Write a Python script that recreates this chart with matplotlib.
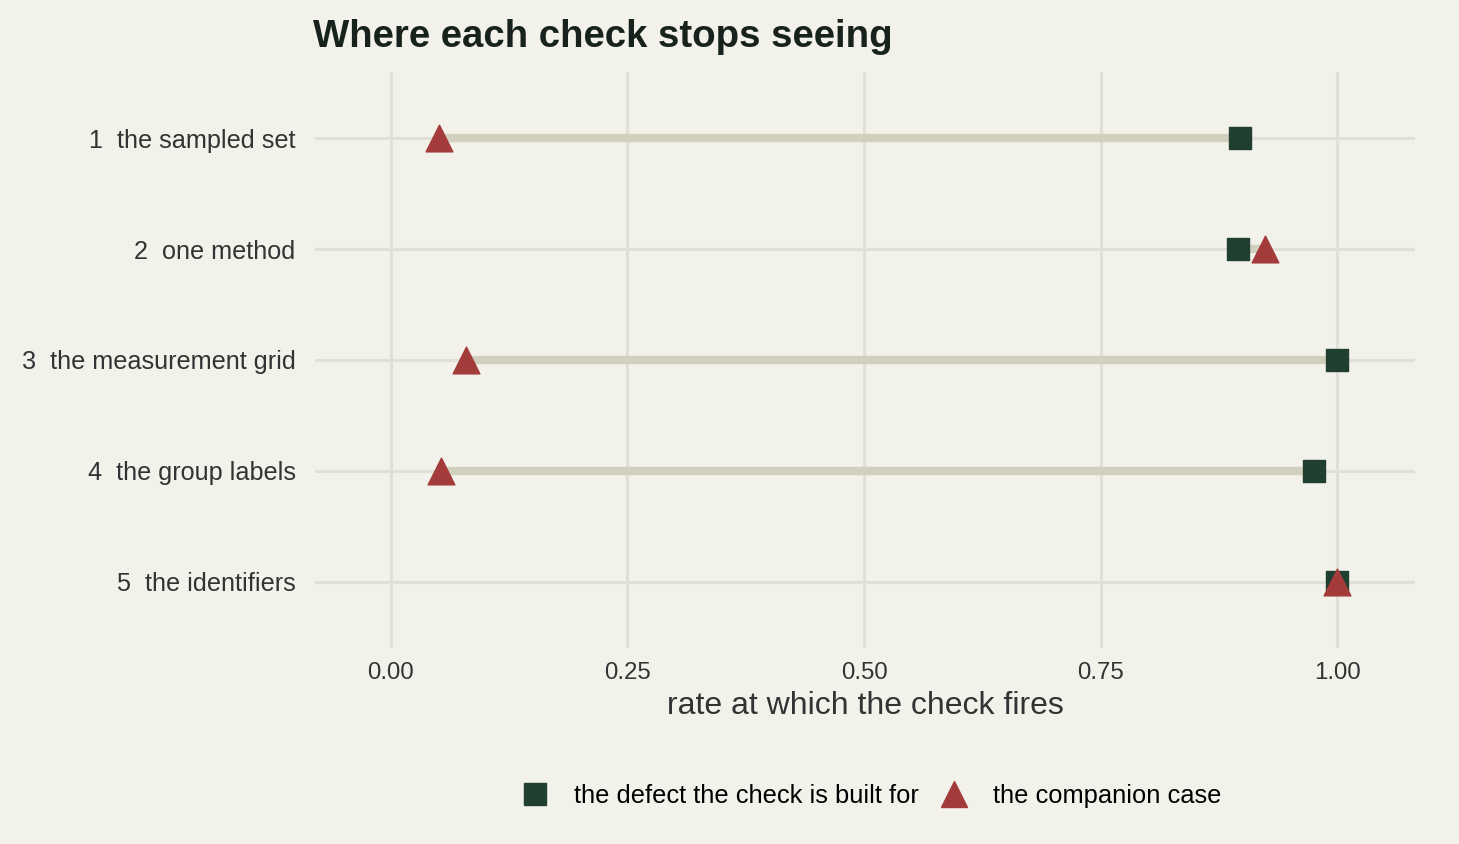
import matplotlib.pyplot as plt
from matplotlib.lines import Line2D

plt.rcParams['font.family'] = ['Liberation Sans', 'DejaVu Sans']

checks = ['1  the sampled set', '2  one method', '3  the measurement grid',
          '4  the group labels', '5  the identifiers']
built_for = [0.897, 0.895, 1.0, 0.975, 1.0]
companion = [0.051, 0.924, 0.080, 0.053, 1.0]
xticks = [0.0, 0.25, 0.5, 0.75, 1.0]
xtick_labels = ['0.00', '0.25', '0.50', '0.75', '1.00']

bg = '#F2F1EA'
grid_col = '#E1E0D6'
seg_col = '#D1D0BE'
green = '#1F4030'
red = '#A33B3B'

fig = plt.figure(figsize=(14.59, 8.44), dpi=100, facecolor=bg)
ax = fig.add_axes([315 / 1459, 1 - 648 / 844, 1100 / 1459, 576 / 844])
ax.set_facecolor(bg)

ypos = list(range(1, len(checks) + 1))
for y, a, b in zip(ypos, built_for, companion):
    ax.plot([a, b], [y, y], color=seg_col, lw=6, solid_capstyle='butt', zorder=2)
ax.scatter(built_for, ypos, marker='s', s=250, color=green, zorder=3)
ax.scatter(companion, ypos, marker='^', s=370, color=red, zorder=4)

ax.set_xlim(-0.08, 1.082)
ax.set_ylim(5.6, 0.4)
ax.set_yticks(ypos)
ax.set_yticklabels(checks, fontsize=18.2)
ax.set_xticks(xticks)
ax.set_xticklabels(xtick_labels, fontsize=17.3)
ax.grid(True, color=grid_col, lw=2.2, zorder=0)
ax.set_axisbelow(True)
for s in ax.spines.values():
    s.set_visible(False)
ax.tick_params(length=0, colors='#333333', pad=14)
ax.tick_params(axis='x', pad=10)
ax.set_xlabel('rate at which the check fires', fontsize=23, color='#333333', labelpad=5)

fig.text(313 / 1459, 1 - 37 / 844, 'Where each check stops seeing', fontsize=27.6,
         fontweight='bold', color='#18221D', va='center', ha='left')

handles = [
    Line2D([], [], marker='s', ls='none', color=green, markersize=16),
    Line2D([], [], marker='^', ls='none', color=red, markersize=19),
]
fig.legend(handles, ['the defect the check is built for', 'the companion case'],
           loc='center', bbox_to_anchor=(868 / 1459, 1 - 796 / 844), ncol=2,
           frameon=False, fontsize=18.4, handletextpad=0.7, columnspacing=0.6,
           handlelength=1.6)

fig.savefig('out.png', dpi=100, facecolor=bg)
